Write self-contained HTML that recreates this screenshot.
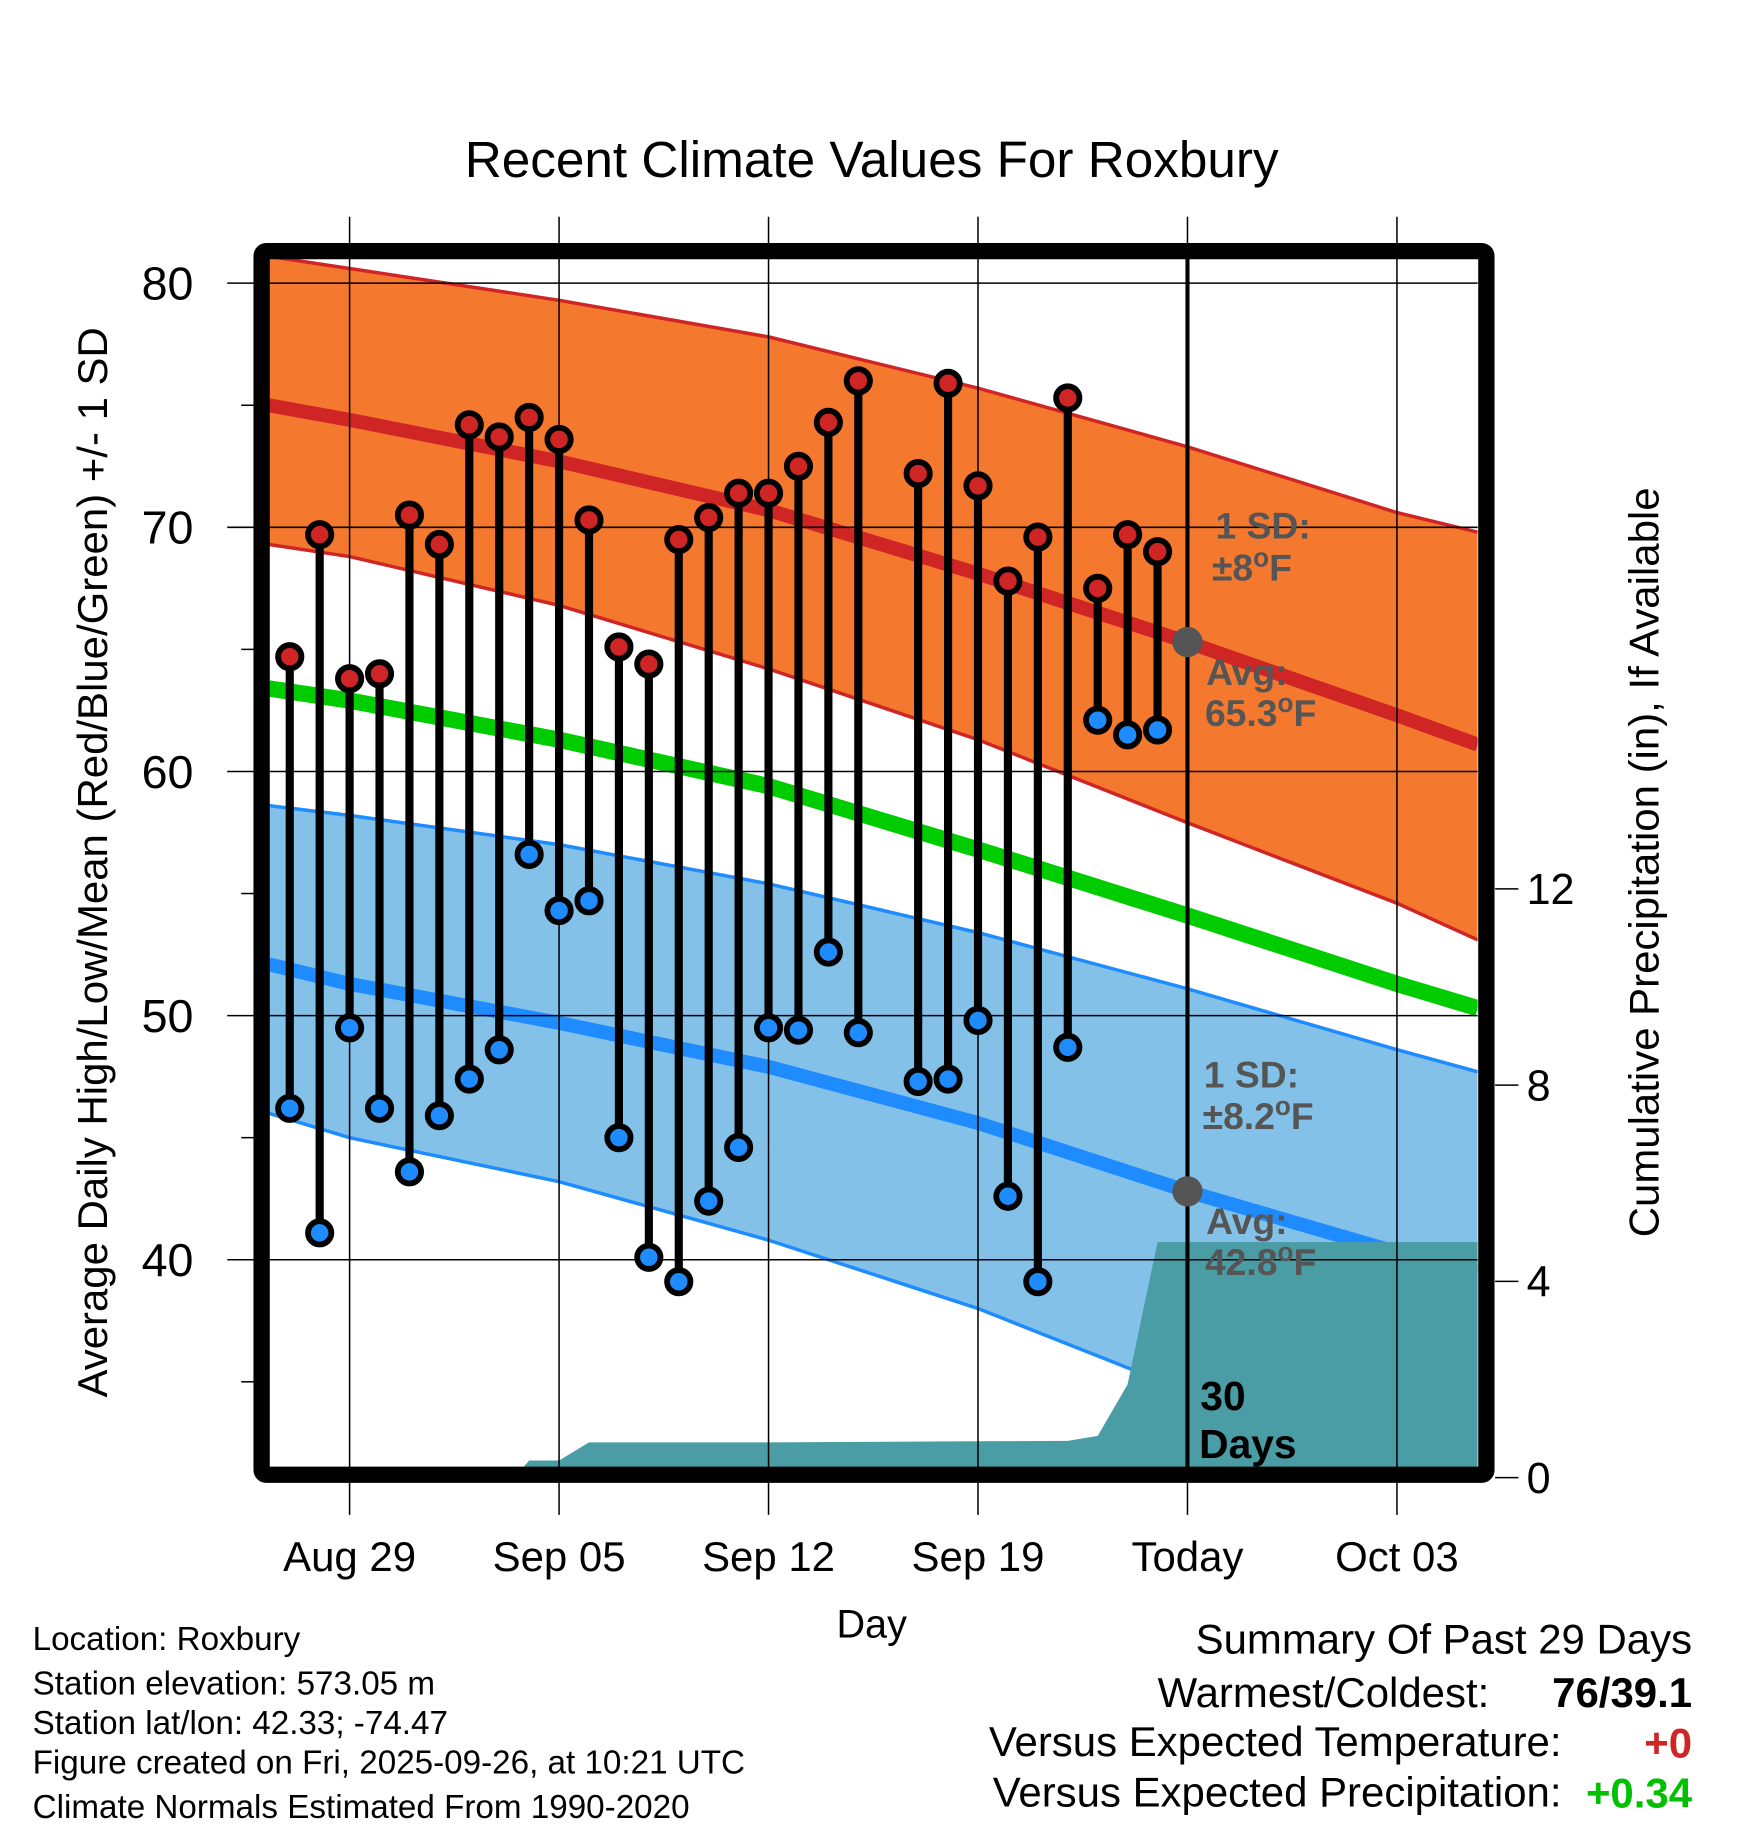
<!DOCTYPE html>
<html><head><meta charset="utf-8"><style>
html,body{margin:0;padding:0;background:#fff;}
svg{display:block;font-family:"Liberation Sans",Arial,sans-serif;}
</style></head><body>
<svg id="chart" width="1748" height="1828" viewBox="0 0 1500 1568.65" xmlns="http://www.w3.org/2000/svg">
<defs><clipPath id="pc"><rect x="231" y="222" width="1037" height="1038"/></clipPath></defs>
<g id="bands" clip-path="url(#pc)"></g>
<g id="grid"></g>
<g id="marks"></g>
<g id="frame"></g>
<g id="labels"></g>
</svg>
<script>
// ---- data ----
const normDays = [-2.7, 0, 7, 14, 21, 28, 35, 37.7];
const normHigh = [75.0, 74.4, 72.7, 70.7, 68.1, 65.3, 62.3, 61.1];
const normHighUpper = [81.1, 80.6, 79.3, 77.8, 75.7, 73.3, 70.6, 69.8];
const normHighLower = [69.3, 68.8, 66.8, 64.2, 61.3, 57.9, 54.6, 53.1];
const normMean = [63.4, 62.9, 61.3, 59.4, 56.8, 54.1, 51.3, 50.3];
const normLow = [52.1, 51.3, 49.7, 47.9, 45.6, 42.8, 40.3, 39.5];
const normLowUpper = [58.6, 58.2, 57.0, 55.4, 53.4, 51.1, 48.6, 47.7];
const normLowLower = [46.0, 45.0, 43.2, 40.8, 38.0, 34.6, 32.0, 31.2];
const obsDays = [-2,-1,0,1,2,3,4,5,6,7,8,9,10,11,12,13,14,15,16,17,19,20,21,22,23,24,25,26,27];
const obsHigh = [64.7,69.7,63.8,64.0,70.5,69.3,74.2,73.7,74.5,73.6,70.3,65.1,64.4,69.5,70.4,71.4,71.4,72.5,74.3,76.0,72.2,75.9,71.7,67.8,69.6,75.3,67.5,69.7,69.0];
const obsLow = [46.2,41.1,49.5,46.2,43.6,45.9,47.4,48.6,56.6,54.3,54.7,45.0,40.1,39.1,42.4,44.6,49.5,49.4,52.6,49.3,47.3,47.4,49.8,42.6,39.1,48.7,62.1,61.5,61.7];
const precDays = [-2.7, 5.5, 6, 7, 8, 14, 21, 24, 25, 26, 27, 37.7];
const precVals = [0, 0, 0.35, 0.35, 0.72, 0.72, 0.74, 0.75, 0.85, 1.9, 4.8, 4.8];
const xTickDays = [0, 7, 14, 21, 28, 35];
const xTickLabels = ["Aug 29","Sep 05","Sep 12","Sep 19","Today","Oct 03"];
const yTicks = [40, 50, 60, 70, 80];
const yMinor = [35, 45, 55, 65, 75];
const pTicks = [0, 4, 8, 12];

// ---- axes ----
const X = d => 300 + d * (1019 - 300) / 28;
const Y = v => 243 + (80 - v) * 20.95;
const P = p => 1268 - p * 42.1;
const NS = "http://www.w3.org/2000/svg";
function mk(parent, tag, attrs, text) {
  const e = document.createElementNS(NS, tag);
  for (const k in attrs) e.setAttribute(k, attrs[k]);
  if (text !== undefined) e.textContent = text;
  document.getElementById(parent).appendChild(e);
  return e;
}
const pts = (ds, vs, f) => ds.map((d, i) => X(d).toFixed(1) + "," + f(vs[i]).toFixed(1));
function band(up, lo) {
  return pts(normDays, up, Y).concat(pts(normDays, lo, Y).reverse()).join(" ");
}

let e;
e = mk("bands", "polygon", {points: band(normHighUpper, normHighLower), fill: "#f4792f"});


e = mk("bands", "polyline", {points: pts(normDays, normHighUpper, Y).join(" "), fill: "none", stroke: "#d02525", "stroke-width": 3});


e = mk("bands", "polyline", {points: pts(normDays, normHighLower, Y).join(" "), fill: "none", stroke: "#d02525", "stroke-width": 3});


e = mk("bands", "polygon", {points: band(normLowUpper, normLowLower), fill: "#84c1e8"});


e = mk("bands", "polyline", {points: pts(normDays, normLowUpper, Y).join(" "), fill: "none", stroke: "#1e8cff", "stroke-width": 3});


e = mk("bands", "polyline", {points: pts(normDays, normLowLower, Y).join(" "), fill: "none", stroke: "#1e8cff", "stroke-width": 3});


e = mk("bands", "polyline", {points: pts(normDays, normHigh, Y).join(" "), fill: "none", stroke: "#d02525", "stroke-width": 12});


e = mk("bands", "polyline", {points: pts(normDays, normMean, Y).join(" "), fill: "none", stroke: "#00cc00", "stroke-width": 14});


e = mk("bands", "polyline", {points: pts(normDays, normLow, Y).join(" "), fill: "none", stroke: "#1e8cff", "stroke-width": 12});


const pp = pts(precDays, precVals, P);
pp.push(X(precDays[precDays.length-1]).toFixed(1) + "," + P(0));
pp.push(X(precDays[0]).toFixed(1) + "," + P(0));
e = mk("bands", "polygon", {points: pp.join(" "), fill: "#4a9ca5"});



yTicks.forEach(v => {
  const g = mk("grid", "line", {x1: 195, x2: 1268, y1: Y(v), y2: Y(v), stroke: "#000", "stroke-width": 1.3});
  
  
  const t = mk("labels", "text", {x: 166, y: Y(v) + 14, "text-anchor": "end", "font-size": 40}, String(v));
  
  
});
yMinor.forEach(v => {
  const g = mk("grid", "line", {x1: 207, x2: 220, y1: Y(v), y2: Y(v), stroke: "#000", "stroke-width": 1.3});
  
  
});
xTickDays.forEach((d, i) => {
  const g = mk("grid", "line", {x1: X(d), x2: X(d), y1: 186, y2: 1300, stroke: "#000", "stroke-width": 1.3});
  
  
  const t = mk("labels", "text", {x: X(d), y: 1348, "text-anchor": "middle", "font-size": 36}, xTickLabels[i]);
  
  
});
pTicks.forEach(p => {
  const g = mk("grid", "line", {x1: 1283, x2: 1303, y1: P(p), y2: P(p), stroke: "#000", "stroke-width": 1.3});
  
  
  const t = mk("labels", "text", {x: 1310, y: P(p) + 13, "font-size": 37}, String(p));
  
  
});
e = mk("grid", "line", {x1: X(28), x2: X(28), y1: 222, y2: 1262, stroke: "#000", "stroke-width": 3.5});



obsDays.forEach((d, i) => {
  const s = mk("marks", "line", {x1: X(d), x2: X(d), y1: Y(obsHigh[i]), y2: Y(obsLow[i]), stroke: "#000", "stroke-width": 7});
  
  
});
obsDays.forEach((d, i) => {
  const h = mk("marks", "circle", {cx: X(d), cy: Y(obsHigh[i]), r: 10, fill: "#d02525", stroke: "#000", "stroke-width": 5});
  
  
  const l = mk("marks", "circle", {cx: X(d), cy: Y(obsLow[i]), r: 10, fill: "#1e8cff", stroke: "#000", "stroke-width": 5});
  
  
});
e = mk("marks", "circle", {cx: X(28), cy: Y(normHigh[5]), r: 13, fill: "#555"});


e = mk("marks", "circle", {cx: X(28), cy: Y(normLow[5]), r: 13, fill: "#555"});



e = mk("frame", "rect", {x: 224.5, y: 215.5, width: 1051, height: 1050, fill: "none", stroke: "#000", "stroke-width": 14, rx: 4});


</script>
<script>
(function(){
const NS = "http://www.w3.org/2000/svg";
function T(x, y, txt, size, opts, name) {
  const e = document.createElementNS(NS, "text");
  e.setAttribute("x", x); e.setAttribute("y", y);
  e.setAttribute("font-size", size);
  for (const k in (opts||{})) e.setAttribute(k, opts[k]);
  
  
  if (Array.isArray(txt)) {
    // [before, superscript, after]
    e.appendChild(document.createTextNode(txt[0]));
    const s = document.createElementNS(NS, "tspan");
    s.setAttribute("dy", -12); s.setAttribute("font-size", size * 0.7);
    s.textContent = txt[1];
    e.appendChild(s);
    const a = document.createElementNS(NS, "tspan");
    a.setAttribute("dy", 12);
    a.textContent = txt[2];
    e.appendChild(a);
  } else e.textContent = txt;
  document.getElementById("labels").appendChild(e);
  return e;
}
T(748, 152, "Recent Climate Values For Roxbury", 44, {"text-anchor":"middle"}, "chart-title");
T(748, 1405, "Day", 34, {"text-anchor":"middle"}, "x-axis-title");
T(92, 740, "Average Daily High/Low/Mean (Red/Blue/Green) +/- 1 SD", 36, {"text-anchor":"middle", transform:"rotate(-90 92 740)"}, "y-axis-title");
T(1423, 740, "Cumulative Precipitation (in), If Available", 36, {"text-anchor":"middle", transform:"rotate(-90 1423 740)"}, "precip-axis-title");
const g = {fill:"#555","font-weight":"bold"};
T(1043, 462, "1 SD:", 32, g, "high-sd-label");
T(1040, 498, ["±8","o","F"], 32, g, "high-sd-value");
T(1035, 588, "Avg:", 32, g, "avg-high-label");
T(1034, 623, ["65.3","o","F"], 32, g, "avg-high-value");
T(1033, 933, "1 SD:", 32, g, "low-sd-label");
T(1032, 969, ["±8.2","o","F"], 32, g, "low-sd-value");
T(1035, 1059, "Avg:", 32, g, "avg-low-label");
T(1034, 1094, ["42.8","o","F"], 32, g, "avg-low-value");
T(1030, 1210, "30", 35, {"font-weight":"bold"}, "precip-days-label");
T(1029, 1251, "Days", 35, {"font-weight":"bold"}, "precip-days-label-2");
const f = 28.5;
T(28, 1416, "Location: Roxbury", f, {}, "footer-location");
T(28, 1454, "Station elevation: 573.05 m", f, {}, "footer-elevation");
T(28, 1488, "Station lat/lon: 42.33; -74.47", f, {}, "footer-latlon");
T(28, 1522, "Figure created on Fri, 2025-09-26, at 10:21 UTC", f, {}, "footer-created");
T(28, 1560, "Climate Normals Estimated From 1990-2020", f, {}, "footer-normals");
T(1452, 1419, "Summary Of Past 29 Days", 36, {"text-anchor":"end"}, "summary-title");
T(1278, 1465, "Warmest/Coldest:", 36, {"text-anchor":"end"}, "warmest-coldest-label");
T(1452, 1465, "76/39.1", 36, {"text-anchor":"end","font-weight":"bold"}, "warmest-coldest-value");
T(1340, 1507, "Versus Expected Temperature:", 36, {"text-anchor":"end"}, "temp-departure-label");
T(1452, 1508, "+0", 36, {"text-anchor":"end","font-weight":"bold",fill:"#d02525"}, "temp-departure-value");
T(1340, 1550, "Versus Expected Precipitation:", 36, {"text-anchor":"end"}, "precip-departure-label");
T(1452, 1551, "+0.34", 36, {"text-anchor":"end","font-weight":"bold",fill:"#00c000"}, "precip-departure-value");
})();
</script>
</body></html>
